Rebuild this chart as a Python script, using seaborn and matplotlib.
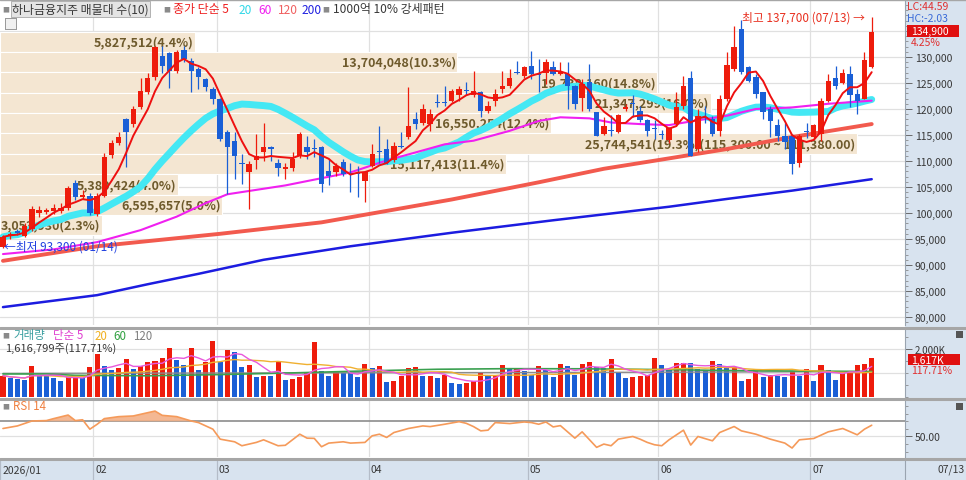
import numpy as np
import pandas as pd
import seaborn as sns
import matplotlib.pyplot as plt
from matplotlib.patches import Rectangle
from matplotlib.lines import Line2D
from matplotlib.ticker import MultipleLocator, FuncFormatter

# ---------------- data ----------------
opens = [93500, 95500, 96600, 95600, 96900, 100000, 100200, 100300, 100400, 101000,
         105700, 103000, 103200, 99800, 103300, 111100, 113400, 118000, 117100, 120300,
         123200, 126100, 130200, 130800, 127400, 131400, 129300, 127700, 125800, 123800,
         121900, 115500, 113900, 109500, 107800, 110100, 111700, 112600, 109700, 108500,
         108700, 111000, 112600, 112500, 112600, 108100, 107800, 109900, 107600, 107600,
         106200, 109100, 112000, 112400, 110100, 112900, 114600, 118000, 117400, 117100,
         121400, 121400, 121600, 122600, 123600, 122600, 123200, 119700, 121600, 123800,
         124500, 127000, 126400, 128300, 126600, 127000, 128000, 126700, 126700, 124500,
         122200, 125100, 119400, 115200, 116000, 115500, 120000, 121100, 119700, 117800,
         116200, 115100, 114000, 117100, 120600, 125900, 112300, 118400, 118000, 115800,
         121900, 127700, 135300, 128000, 126100, 123200, 120000, 116900, 114900, 114900,
         109700, 115600, 114600, 115200, 121600, 125900, 125000, 126700, 122900, 122000,
         128000]
highs = [95800, 96400, 97000, 98000, 101300, 101300, 101000, 101800, 102000, 105200,
         106300, 104500, 103800, 103800, 111500, 114000, 115500, 118300, 120500, 126000,
         127000, 132200, 132200, 131000, 131400, 132200, 129800, 128000, 126000, 124300,
         122200, 116000, 115500, 111300, 110000, 115200, 117400, 112900, 110400, 109700,
         111700, 115500, 114900, 114200, 112900, 110400, 109700, 110400, 109700, 109100,
         108000, 113300, 116800, 114200, 113600, 115500, 124200, 119400, 121000, 120000,
         122900, 124500, 123800, 124500, 125100, 127400, 123500, 121600, 123800, 127400,
         127700, 129300, 128300, 131200, 129600, 129700, 129300, 129000, 129000, 124700,
         125800, 128700, 119400, 118400, 118800, 119000, 120900, 122600, 120600, 118000,
         117800, 116000, 116500, 123200, 126400, 127400, 120000, 120600, 118700, 122600,
         130900, 136000, 137200, 128300, 126700, 123200, 120600, 118100, 117400, 115200,
         115200, 117400, 117100, 122200, 126700, 128200, 127700, 128300, 123800, 130900,
         137700]
lows = [93300, 95000, 95800, 95300, 96500, 99300, 99800, 99800, 100000, 100500,
        102500, 102600, 99600, 99500, 103000, 110500, 113000, 108800, 116500, 120000,
        122800, 125500, 127000, 124000, 127000, 129000, 123200, 123800, 123500, 121000,
        113800, 103700, 106500, 105600, 100800, 108500, 110000, 110000, 107200, 106500,
        108000, 110600, 110400, 110700, 104000, 105300, 107200, 107200, 104000, 103000,
        102100, 108800, 109700, 109500, 109800, 112500, 114200, 116100, 117000, 115800,
        120300, 120500, 121300, 121600, 122600, 122400, 118400, 119300, 120600, 123000,
        124000, 126700, 126000, 125800, 123200, 124800, 126500, 126500, 120000, 120000,
        119700, 119700, 114800, 115000, 114900, 115400, 119700, 118400, 117500, 114900,
        114200, 114200, 113500, 116800, 120000, 111000, 111700, 117400, 114900, 114900,
        121500, 127400, 126800, 125100, 122200, 118100, 114600, 113900, 112300, 107500,
        108800, 114500, 114200, 113900, 121300, 123800, 124800, 120300, 119000, 121900,
        127800]
closes = [95400, 96000, 96100, 97500, 100700, 100500, 100600, 101000, 100900, 104900,
          103000, 103500, 100000, 103300, 110700, 113400, 114700, 115500, 120000, 123500,
          126000, 132000, 128300, 127400, 130900, 129600, 127400, 126100, 124200, 121900,
          114200, 112600, 111000, 109400, 109400, 111000, 112600, 112400, 108600, 108800,
          110400, 115200, 111700, 112400, 105600, 107200, 109100, 107500, 107500, 107500,
          107800, 111300, 111700, 109700, 112900, 112700, 116800, 117100, 120000, 119000,
          121200, 121200, 123500, 123800, 123500, 123500, 119700, 120600, 122900, 124500,
          125900, 126900, 128000, 126700, 126500, 129000, 126700, 127200, 124500, 121000,
          124800, 120000, 114900, 116800, 115800, 118800, 120300, 121000, 117900, 115800,
          116100, 115000, 116300, 120300, 124400, 111000, 118700, 118300, 115200, 121900,
          128500, 132000, 127200, 125400, 122900, 119400, 117600, 114900, 113600, 109400,
          114900, 115500, 116900, 121600, 125300, 124500, 126900, 122600, 121600, 129400,
          134900]
# volume in thousand shares
volumes_k = [885, 789, 760, 719, 1273, 885, 880, 775, 650, 858,
             870, 789, 1245, 1798, 1273, 1135, 1204, 1577, 1162, 1273,
             1466, 1480, 1618, 2047, 1522, 1342, 2047, 1135, 1439, 2324,
             1439, 1937, 1868, 1245, 1328, 830, 885, 858, 1439, 700,
             730, 816, 996, 2296, 1065, 858, 1065, 996, 980, 830,
             1370, 1204, 1273, 636, 650, 858, 1204, 1245, 858, 885,
             789, 927, 581, 545, 560, 645, 980, 858, 927, 1314,
             1204, 1220, 1093, 927, 1273, 1134, 816, 1370, 1273, 899,
             1370, 1439, 1231, 1204, 1560, 996, 789, 816, 858, 927,
             1630, 1342, 1135, 1411, 1430, 1400, 1162, 1065, 1480, 1370,
             1204, 1245, 677, 747, 1162, 830, 927, 885, 830, 1065,
             858, 1162, 677, 1342, 1135, 719, 996, 1010, 1342, 1374,
             1617]

month_labels = ['2026/01', '02', '03', '04', '05', '06', '07']
month_first_bar = [0, 13, 30, 51, 73, 91, 112]
last_date = '07/13'

# longer moving averages (need history before the window), read as points
ma60_x = [0, 7, 13, 19, 24, 28, 31, 39, 48, 53, 61, 65, 70, 74, 77, 81, 84, 88, 92, 95, 100, 104, 109, 114, 120]
ma60_y = [92100, 93000, 94400, 96700, 99300, 101900, 103600, 105300, 107800, 110100, 113200, 113900,
          115800, 117700, 118400, 118200, 117400, 117100, 116900, 117600, 118700, 120000, 120300,
          121000, 121600]
ma120_x = [0, 13, 30, 44, 62, 74, 83, 92, 100, 109, 120]
ma120_y = [90800, 93600, 96000, 98200, 102600, 105900, 108500, 110500, 112300, 114600, 117100]
ma200_x = [0, 13, 20, 27, 36, 48, 62, 76, 92, 100, 109, 120]
ma200_y = [81900, 84200, 86300, 88300, 91000, 93600, 96200, 98600, 101200, 102700, 104300, 106500]

vma60_x = [0, 6, 10, 20, 30, 40, 50, 60, 70, 80, 90, 100, 110, 120]
vma60_y = [955, 955, 900, 880, 930, 1000, 1080, 1150, 1175, 1170, 1140, 1100, 1075, 1060]
vma120_x = [0, 40, 80, 120]
vma120_y = [980, 1000, 1020, 1050]

rsi_x = [0, 2, 4, 6, 7, 9, 10, 11, 12, 13, 14, 16, 18, 20, 21, 22, 24, 26, 27, 29,
         30, 32, 33, 35, 36, 38, 39, 41, 42, 43, 44, 45, 47, 48, 50, 51, 52, 53, 54, 56,
         58, 59, 61, 63, 64, 65, 66, 67, 68, 70, 72, 73, 74, 75, 76, 77, 79, 80, 82, 83,
         84, 85, 87, 88, 89, 90, 91, 92, 94, 95, 96, 98, 99, 101, 102, 104, 106, 108, 109,
         110, 112, 114, 116, 118, 119, 120]
rsi_y = [60.5, 63.9, 70.4, 70.9, 73.5, 78.2, 70.9, 72.0, 59.6, 66.0, 73.5, 76.1, 77.0, 81.3, 83.4,
         77.8, 76.1, 70.4, 68.3, 59.6, 46.5, 43.0, 37.8, 42.2, 45.6, 37.8, 38.4, 53.0, 47.8, 47.5,
         36.5, 41.3, 43.0, 41.3, 42.2, 50.9, 53.0, 48.7, 55.2, 60.5, 63.9, 63.0, 66.1, 69.5, 67.3,
         63.0, 57.4, 58.3, 68.3, 67.0, 69.1, 68.3, 66.1, 69.1, 62.6, 64.3, 47.8, 56.1, 35.7, 40.0,
         37.8, 46.5, 50.0, 46.5, 42.2, 39.1, 37.8, 45.6, 58.3, 38.7, 50.0, 44.3, 55.2, 63.1, 57.4,
         53.0, 46.5, 41.3, 34.8, 45.6, 47.4, 56.1, 60.5, 52.2, 59.6, 64.8]

# volume-at-price bands (매물대)
band_hi = [134900, 130980, 127060, 123140, 119220, 115300, 111380, 107460, 103540, 99620]
band_lo = [130980, 127060, 123140, 119220, 115300, 111380, 107460, 103540, 99620, 95700]
band_vol = [5827512, 13704048, 19738160, 21347299, 16550254, 25744541, 15117413, 5380424, 6595657, 3053930]
band_pct = [4.4, 10.3, 14.8, 16.0, 12.4, 19.3, 11.4, 4.0, 5.0, 2.3]

high_price, high_date = 137700, '07/13'
low_price, low_date = 93300, '01/14'
lc_value, hc_value = 44.59, -2.03
change_pct = 4.25
last_volume, volume_ratio = 1616799, 117.71

# ---------------- styling ----------------
W, H = 966, 481
RED = '#ee1c0c'
BLUE = '#1a5fd6'
GRID = '#e0e0e0'
AXBG = '#d8e3ef'
BAND = '#f4e6d2'
BAND_TXT = '#6e5a2c'
TXT = '#383838'

sns.set_style('white')
plt.rcParams['font.family'] = ['Noto Sans CJK KR', 'DejaVu Sans']
plt.rcParams['axes.unicode_minus'] = False

fig = plt.figure(figsize=(W / 100, H / 100), dpi=100)
fig.patch.set_facecolor('white')


def frame(x0, y0, x1, y1):
    return [x0 / W, 1 - y1 / H, (x1 - x0) / W, (y1 - y0) / H]


def ftext(x, y, s, **kw):
    kw.setdefault('va', 'center')
    kw.setdefault('fontsize', 7.5)
    return fig.text(x / W, 1 - y / H, s, **kw)


def fbox(x0, y0, x1, y1, color):
    fig.patches.append(Rectangle((x0 / W, 1 - y1 / H), (x1 - x0) / W, (y1 - y0) / H,
                                 transform=fig.transFigure, facecolor=color,
                                 edgecolor='none', zorder=1))


# right scale area and the date strip
fig.patches.append(Rectangle((905 / W, 0), 61 / W, 1, transform=fig.transFigure,
                             facecolor=AXBG, edgecolor='none', zorder=-5))
fig.patches.append(Rectangle((0, 0), 1, 21 / H, transform=fig.transFigure,
                             facecolor=AXBG, edgecolor='none', zorder=-5))

idx = np.arange(len(closes))
o = np.array(opens)
c = np.array(closes)
XLIM = (-0.41, 124.6)


def base_axes(rect):
    a = fig.add_axes(rect)
    a.set_xlim(*XLIM)
    a.set_facecolor('white')
    for s in ['top', 'left', 'bottom']:
        a.spines[s].set_visible(False)
    a.spines['right'].set_color('#9aa4b0')
    a.spines['right'].set_linewidth(0.8)
    a.set_xticks([])
    a.yaxis.tick_right()
    a.tick_params(axis='y', which='major', length=5, width=0.7, color='#6a6a6a',
                  labelsize=7.5, labelcolor=TXT, pad=2)
    a.tick_params(axis='y', which='minor', length=2.5, width=0.6, color='#8a8a8a')
    for b in month_first_bar[1:]:
        a.axvline(b - 0.5, color=GRID, lw=0.9, zorder=0.1)
    return a


# ---------------- price panel ----------------
ax = base_axes(frame(0, 0, 905, 326))
ax.set_ylim(78460, 141150)
for lvl in range(80000, 135001, 5000):
    ax.axhline(lvl, color=GRID, lw=0.9, zorder=0.1)

full_len = 118.4
max_pct = max(band_pct)
for hi, lo, v, p in zip(band_hi, band_lo, band_vol, band_pct):
    wdt = p / max_pct * full_len
    ax.barh((hi + lo) / 2, wdt, left=XLIM[0], height=hi - lo, color=BAND,
            edgecolor='white', lw=0.8, zorder=0.5)
    lab = f'{v:,}({p:.1f}%)'
    if p == max_pct:
        lab += f'({hi:,.2f} ~ {lo:,.2f})'
    ax.text(XLIM[0] + wdt - 0.2, (hi + lo) / 2, lab, ha='right', va='center',
            fontsize=9, fontweight='bold', color=BAND_TXT, zorder=0.8)

ma5 = pd.Series(closes).rolling(5, min_periods=1).mean()
ma20 = pd.Series(closes).rolling(20, min_periods=1).mean()
sns.lineplot(x=ma200_x, y=ma200_y, ax=ax, color='#1c1ce0', lw=1.8, legend=False, zorder=2)
sns.lineplot(x=ma120_x, y=ma120_y, ax=ax, color='#f25a4e', lw=2.8, legend=False, zorder=2)
sns.lineplot(x=ma60_x, y=ma60_y, ax=ax, color='#f020f0', lw=1.5, legend=False, zorder=2.2)
sns.lineplot(x=idx, y=ma20, ax=ax, color='#44e8f4', lw=5, legend=False, zorder=2.1)

cols = np.where(c >= o, RED, BLUE)
ax.vlines(idx, lows, highs, colors=cols, lw=0.9, zorder=3)
ax.bar(idx, np.maximum(np.abs(c - o), 180), bottom=np.minimum(o, c), width=0.74,
       color=cols, lw=0, zorder=3.1)
sns.lineplot(x=idx, y=ma5, ax=ax, color='#ee1010', lw=1.4, legend=False, zorder=4)

ax.set_yticks(range(80000, 130001, 5000))
ax.yaxis.set_major_formatter(FuncFormatter(lambda v, p: f'{int(v):,}'))
ax.yaxis.set_minor_locator(MultipleLocator(1000))
ax.set_xlabel('')
ax.set_ylabel('')

ax.text(idx[-1] - 0.9, high_price, f'최고 {high_price:,} ({high_date}) →', ha='right',
        va='center', fontsize=8.5, color='#e83020', zorder=5)
ax.text(0.15, low_price + 300, f'←최저 {low_price:,} ({low_date})', ha='left',
        va='center', fontsize=8.5, color='#2040e0', zorder=5)

# ---------------- volume panel ----------------
axv = base_axes(frame(0, 330, 905, 398))
axv.set_ylim(0, 2820)
for lvl in [1000, 2000]:
    axv.axhline(lvl, color=GRID, lw=0.9, zorder=0.1)
vol = np.array(volumes_k)
vcols = [RED if i == 0 or vol[i] > vol[i - 1] else BLUE for i in range(len(vol))]
axv.bar(idx, vol, width=0.7, color=vcols, lw=0, zorder=2)
vma5 = pd.Series(volumes_k).rolling(5, min_periods=1).mean()
vma20 = pd.Series(volumes_k).rolling(20, min_periods=1).mean()
sns.lineplot(x=vma120_x, y=vma120_y, ax=axv, color='#8c8c8c', lw=1, legend=False, zorder=3)
sns.lineplot(x=vma60_x, y=vma60_y, ax=axv, color='#3aa050', lw=1.2, legend=False, zorder=3)
sns.lineplot(x=idx, y=vma20, ax=axv, color='#f0b030', lw=1, legend=False, zorder=3)
sns.lineplot(x=idx, y=vma5, ax=axv, color='#e858dc', lw=1, legend=False, zorder=3.2)
axv.set_yticks([2000])
axv.set_yticklabels(['2,000K'])
axv.tick_params(axis='y', which='major', labelsize=7)
axv.yaxis.set_minor_locator(MultipleLocator(500))
axv.set_xlabel('')
axv.set_ylabel('')

# ---------------- RSI panel ----------------
axr = base_axes(frame(0, 401, 905, 458))
axr.set_ylim(23, 98)
axr.axhline(50, color=GRID, lw=0.9, zorder=0.1)
axr.axhline(70, color='#8c8c8c', lw=1.2, zorder=0.2)
rx = np.array(rsi_x)
ry = np.array(rsi_y)
axr.fill_between(rx, ry, 70, where=ry > 70, interpolate=True, color='#f3b187',
                 alpha=0.9, lw=0, zorder=1)
sns.lineplot(x=rx, y=ry, ax=axr, color='#f59a5a', lw=1.2, legend=False, zorder=2)
axr.set_yticks([50])
axr.set_yticklabels(['50.00'])
axr.yaxis.set_minor_locator(MultipleLocator(10))
axr.set_xlabel('')
axr.set_ylabel('')

# ---------------- date strip ----------------
axd = fig.add_axes(frame(0, 460, 905, 481))
axd.set_xlim(*XLIM)
axd.set_ylim(0, 1)
axd.axis('off')
for lab, b in zip(month_labels, month_first_bar):
    xb = b - 0.5 if b > 0 else XLIM[0]
    axd.axvline(xb, color='#b4bcc8', lw=0.9)
    axd.text(xb + 0.3, 0.5, lab, ha='left', va='center', fontsize=7.5, color=TXT)
ftext(937, 470, last_date, color=TXT)
fig.add_artist(Line2D([905 / W, 905 / W], [0, 21 / H], color='#9aa4b0', lw=0.8))

# panel separators
for yy, lw in [(0.5, 1.0), (328.5, 2.2), (399.5, 2.2), (459.5, 2.2)]:
    fig.add_artist(Line2D([0, 1], [1 - yy / H, 1 - yy / H], color='#a6a6a6', lw=lw))

# ---------------- header texts ----------------
ftext(2, 10, '■', fontsize=5, color='#8a8a8a')
ftext(12, 10, '하나금융지주 매물대 수(10)', fontsize=8.6, color=TXT,
      bbox=dict(boxstyle='square,pad=0.12', fc='#e4e4e4', ec='#a8a8a8', lw=0.6))
ftext(163, 10, '■', fontsize=5, color='#8a8a8a')
ftext(173, 10, '종가 단순 5', fontsize=8.6, color='#ee2020')
ftext(239, 10, '20', fontsize=8.6, color='#30d8e8')
ftext(258, 10, '60', fontsize=8.6, color='#f020f0')
ftext(278, 10, '120', fontsize=8.6, color='#f06060')
ftext(302, 10, '200', fontsize=8.6, color='#2020e0')
ftext(322, 10, '■', fontsize=5, color='#8a8a8a')
ftext(333, 10, '1000억 10% 강세패턴', fontsize=8.6, color=TXT)
fbox(5, 19, 17, 31, '#9a9a9a')
fbox(6, 20, 16, 30, '#f0f0f0')

ftext(2, 336, '■', fontsize=5, color='#8a8a8a')
ftext(13, 336, '거래량', fontsize=8.3, color='#3a9fa0')
ftext(53, 336, '단순 5', fontsize=8.3, color='#e040d0')
ftext(95, 336, '20', fontsize=8.3, color='#f0b020')
ftext(113, 336, '60', fontsize=8.3, color='#30a040')
ftext(133, 336, '120', fontsize=8.3, color='#808080')
ftext(5, 349, f'{last_volume:,}주({volume_ratio:.2f}%)', fontsize=8, color=TXT)

ftext(2, 407, '■', fontsize=5, color='#8a8a8a')
ftext(13, 407, 'RSI 14', fontsize=8.3, color='#f08040')

# right side price info
ftext(907, 7, f'LC:{lc_value:.2f}', color='#e03030')
ftext(907, 19, f'HC:{hc_value:.2f}', color='#3a6ad8')
fbox(907, 26, 959, 38, '#e01010')
ftext(911, 32, f'{closes[-1]:,}', color='white')
ftext(911, 43, f'{change_pct:.2f}%', color='#e03030')

fbox(908, 355, 960, 366, '#e01010')
ftext(911, 360.5, f'{volumes_k[-1]:,}K', color='white')
ftext(911, 371, f'{volume_ratio:.2f}%', color='#e03030')

fbox(956, 332, 963, 339, '#555555')
fbox(956, 404, 963, 411, '#555555')

fig.savefig('out.png', dpi=100)
